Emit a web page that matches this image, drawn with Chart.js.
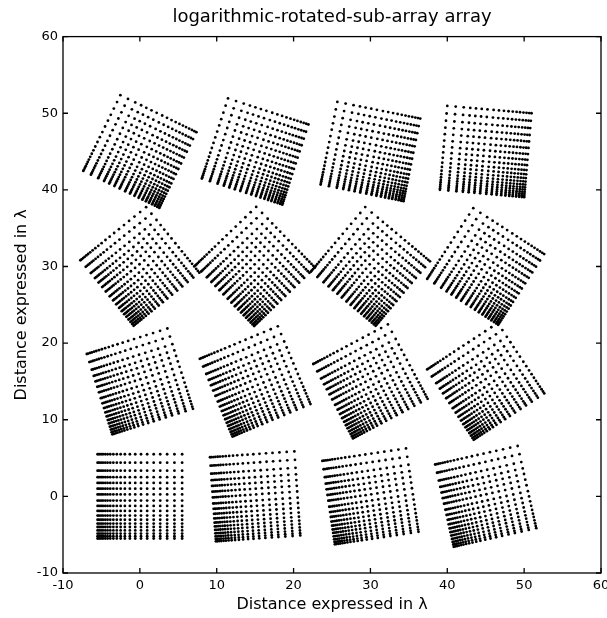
<!DOCTYPE html>
<html>
<head>
<meta charset="utf-8">
<script src="https://cdn.jsdelivr.net/npm/chart.js"></script>
<style>
  html, body { margin: 0; padding: 0; background: #fff; }
</style>
</head>
<body>
<canvas id="arrayPlot" width="607" height="618"></canvas>
<script>
    // centre of each of the 16 sub-arrays (in wavelengths), bottom row first
    const centerX = [0, 15, 30, 45, 0, 15, 30, 45, 0, 15, 30, 45, 0, 15, 30, 45];
    const centerY = [0, 0, 0, 0, 15, 15, 15, 15, 30, 30, 30, 30, 45, 45, 45, 45];
    // rotation of each sub-array, degrees counter-clockwise
    const rotationDeg = [0, 4, 8.5, 12.7, 17.6, 22.7, 28, 33.4, 39, 44, 50, 57, 64, 72, 78.6, 85];
    // element positions inside one sub-array before rotation (log-spaced, dense at the low end)
    const colOffsets = [-5.5, -5.3, -5.05, -4.8, -4.5, -4.2, -3.85, -3.45, -3.0, -2.5,
                        -1.95, -1.3, -0.6, 0.15, 0.95, 1.8, 2.65, 3.55, 4.5, 5.5];
    const rowOffsets = [-5.5, -5.2, -4.85, -4.45, -4.0, -3.55, -3.05, -2.5, -1.9,
                        -1.25, -0.55, 0.25, 1.0, 1.75, 2.5, 3.35, 4.4, 5.5];
    const xTicks = [-10, 0, 10, 20, 30, 40, 50, 60];
    const yTicks = [-10, 0, 10, 20, 30, 40, 50, 60];

    const FONT = "'DejaVu Sans', sans-serif";

    function subArrayPoints(k) {
        const t = rotationDeg[k] * Math.PI / 180;
        const c = Math.cos(t), s = Math.sin(t);
        const pts = [];
        rowOffsets.forEach(r => {
            colOffsets.forEach(q => {
                pts.push({ x: centerX[k] + q * c - r * s, y: centerY[k] + q * s + r * c });
            });
        });
        return pts;
    }

    const datasets = centerX.map((_, k) => ({
        label: 'sub-array ' + (k + 1),
        data: subArrayPoints(k),
        pointRadius: 1.4,
        pointBorderWidth: 0,
        backgroundColor: '#000',
        borderColor: '#000'
    }));

    // MATLAB style box with inward ticks on every side
    const framePlugin = {
        id: 'frame',
        afterDraw(chart) {
            const { ctx, chartArea: a, scales: { x, y } } = chart;
            ctx.save();
            ctx.strokeStyle = '#000';
            ctx.lineWidth = 1.3;
            ctx.strokeRect(a.left, a.top, a.right - a.left, a.bottom - a.top);
            ctx.beginPath();
            xTicks.forEach(v => {
                const px = x.getPixelForValue(v);
                ctx.moveTo(px, a.bottom); ctx.lineTo(px, a.bottom - 5);
                ctx.moveTo(px, a.top); ctx.lineTo(px, a.top + 5);
            });
            yTicks.forEach(v => {
                const py = y.getPixelForValue(v);
                ctx.moveTo(a.left, py); ctx.lineTo(a.left + 5, py);
                ctx.moveTo(a.right, py); ctx.lineTo(a.right - 5, py);
            });
            ctx.stroke();
            ctx.restore();
        }
    };

    new Chart(document.getElementById('arrayPlot'), {
        type: 'scatter',
        data: { datasets },
        plugins: [framePlugin],
        options: {
            responsive: false,
            animation: false,
            events: [],
            layout: { padding: { top: 0, right: 6, bottom: 0, left: 0 } },
            plugins: {
                legend: { display: false },
                tooltip: { enabled: false },
                title: {
                    display: true,
                    fullSize: false,
                    text: 'logarithmic-rotated-sub-array array',
                    color: '#000',
                    font: { family: FONT, size: 18, weight: 'normal' },
                    padding: { top: 7, bottom: 8 }
                }
            },
            scales: {
                x: {
                    type: 'linear',
                    min: -10,
                    max: 60,
                    afterBuildTicks: s => { s.ticks = xTicks.map(v => ({ value: v })); },
                    afterFit: s => { s.height = 45; s.paddingLeft = 0; s.paddingRight = 0; },
                    grid: { display: false, drawTicks: false },
                    border: { display: false },
                    ticks: { color: '#000', padding: 5, maxRotation: 0, font: { family: FONT, size: 13 } },
                    title: {
                        display: true,
                        text: 'Distance expressed in λ',
                        color: '#000',
                        font: { family: FONT, size: 16 },
                        padding: { top: 0, bottom: 4 }
                    }
                },
                y: {
                    type: 'linear',
                    min: -10,
                    max: 60,
                    afterBuildTicks: s => { s.ticks = yTicks.map(v => ({ value: v })); },
                    afterFit: s => { s.width = 63; s.paddingTop = 0; s.paddingBottom = 0; },
                    grid: { display: false, drawTicks: false },
                    border: { display: false },
                    ticks: { color: '#000', padding: 5, font: { family: FONT, size: 13 } },
                    title: {
                        display: true,
                        text: 'Distance expressed in λ',
                        color: '#000',
                        font: { family: FONT, size: 16 },
                        padding: { top: 12, bottom: 0 }
                    }
                }
            }
        }
    });
</script>
</body>
</html>
